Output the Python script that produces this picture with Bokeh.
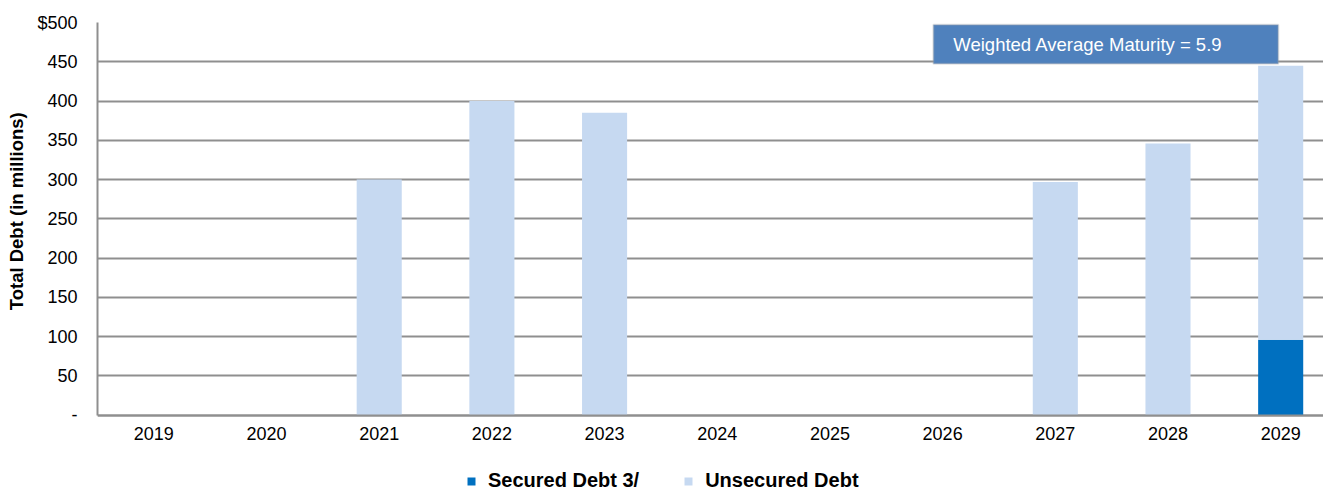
from bokeh.plotting import figure
from bokeh.models import (Range1d, FixedTicker, Legend, LegendItem, BoxAnnotation, Label,
                          ColumnDataSource)
from bokeh.embed import file_html
from bokeh.resources import INLINE

years = ["2019", "2020", "2021", "2022", "2023", "2024", "2025", "2026", "2027", "2028", "2029"]
secured = [0, 0, 0, 0, 0, 0, 0, 0, 0, 0, 96]
unsecured = [0, 0, 300, 400, 385, 0, 0, 0, 297, 346, 349]
y_ticks = [0, 50, 100, 150, 200, 250, 300, 350, 400, 450, 500]
y_tick_labels = ["-", "50", "100", "150", "200", "250", "300", "350", "400", "450", "$500"]
series_names = ["Secured Debt 3/", "Unsecured Debt"]
series_colors = ["#0070C0", "#C6D9F1"]
y_title = "Total Debt (in millions)"
note_text = "Weighted Average Maturity = 5.9"

FONT = "Liberation Sans"
GRID = "#8f8f8f"

idx = list(range(len(years)))
src = ColumnDataSource(dict(x=idx, secured=secured, unsecured=unsecured))

# frame spans from y=22 px to the bottom edge; the value axis runs 0..500 over the upper part
p = figure(width=1323, height=492, output_backend="svg", toolbar_location=None,
           x_range=Range1d(-0.5, 10.38), y_range=Range1d(-98.6, 500),
           min_border_left=97, min_border_right=0, min_border_top=22, min_border_bottom=0)
p.outline_line_color = None
p.background_fill_color = "white"
p.border_fill_color = "white"

renderers = p.vbar_stack(["secured", "unsecured"], x="x", width=0.4, source=src,
                         color=series_colors, line_color=None)

# axes
p.xaxis.fixed_location = 0
p.xaxis.ticker = FixedTicker(ticks=idx)
p.xaxis.major_label_overrides = {i: y for i, y in zip(idx, years)}
p.yaxis.ticker = FixedTicker(ticks=y_ticks)
p.yaxis.major_label_overrides = {t: l for t, l in zip(y_ticks, y_tick_labels)}
p.yaxis.bounds = (0, 500)
for ax in (p.xaxis, p.yaxis):
    ax.major_tick_out = 0
    ax.major_tick_in = 0
    ax.minor_tick_out = 0
    ax.minor_tick_in = 0
    ax.axis_line_color = GRID
    ax.axis_line_width = 2
    ax.major_label_text_font = FONT
    ax.major_label_text_font_size = "18px"
    ax.major_label_text_color = "#000000"
p.xaxis.major_label_standoff = 12
p.yaxis.major_label_standoff = 20
# leading no-break spaces shift the centred title up to the middle of the 0..500 span
p.yaxis.axis_label = "\u00a0" * 18 + y_title
p.yaxis.axis_label_text_font = FONT
p.yaxis.axis_label_text_font_size = "18.5px"
p.yaxis.axis_label_text_font_style = "bold"
p.yaxis.axis_label_text_color = "#000000"
p.yaxis.axis_label_standoff = 7

p.xgrid.grid_line_color = None
p.ygrid.grid_line_color = GRID
p.ygrid.grid_line_width = 2

# annotation box
box = BoxAnnotation(left=6.918, right=9.979, top=497.2, bottom=447.5,
                    fill_color="#4F81BD", fill_alpha=1.0,
                    line_color="#A6A6A6", line_width=2)
p.add_layout(box)
lab = Label(x=7.095, y=472.4, text=note_text, text_color="white",
            text_font=FONT, text_font_size="18.5px", text_baseline="middle")
p.add_layout(lab)

legend = Legend(items=[LegendItem(label=n, renderers=[r]) for n, r in zip(series_names, renderers)],
                orientation="horizontal", location=(369, 0),
                label_text_font=FONT, label_text_font_size="20px", label_text_font_style="bold",
                label_text_color="#000000", label_height=20,
                glyph_width=10, glyph_height=10, label_standoff=12, spacing=44,
                padding=0, margin=0, border_line_color=None, background_fill_alpha=0)
p.add_layout(legend, "center")

open("out.html", "w").write(file_html(p, INLINE))
